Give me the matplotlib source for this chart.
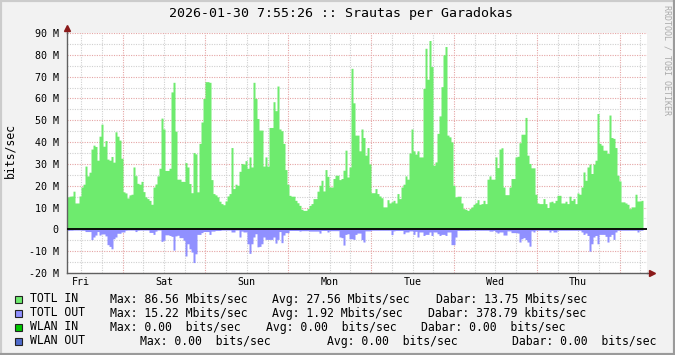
import numpy as np
import pandas as pd
import matplotlib
matplotlib.use('Agg')
import matplotlib.pyplot as plt
import matplotlib.dates as mdates
from matplotlib.patches import Rectangle
from matplotlib.lines import Line2D
from matplotlib.ticker import MultipleLocator, FuncFormatter

W, H = 675, 355
MONO = 'DejaVu Sans Mono'

# time window: one week ending at the title time, ~35 min per sample
end_time = pd.Timestamp('2026-01-30 07:55:26')
start_time = end_time - pd.Timedelta(days=7)
step = pd.Timedelta(days=7) / 290

# TOTL IN, Mbit/s
tot_in = [
    14.9, 15.2, 15.3, 17.5, 12.1, 12.1, 15.3, 19.4, 20.7, 29, 24.5, 26.2, 36.8, 38.6, 38, 31.7,
    42.7, 48.2, 38.1, 40.7, 32.2, 31.7, 33.4, 30.8, 44.7, 42.7, 40.9, 32.6, 17.2, 16.7, 14.4, 15.8,
    16.1, 28.6, 24.6, 21.1, 20.7, 22, 17.3, 14.9, 14.1, 13.3, 11.5, 19.4, 20.8, 24.5, 28, 51,
    # Sat
    46, 27, 27, 28, 63, 67.4, 45, 23, 23, 22, 22, 30.6, 28.6, 21, 16.8, 35.2,
    34.6, 17.2, 39.4, 49.2, 60, 67.7, 67.7, 67.4, 22.8, 16.4, 15.8, 14.9, 12.9, 11.8, 11.3, 13,
    15.3, 16.4, 37.5, 18.7, 20.7, 20.2, 26.6, 30.2, 29.9, 31.5, 28, 33.2, 28.6, 67.4, 60, 50.8,
    # Sun
    45.5, 45.5, 29, 33.2, 29, 46.7, 46.7, 58.5, 54.4, 65.7, 46, 45.2, 39.4, 27.4, 20.7, 15.6,
    15.2, 15.2, 13.3, 12.2, 11, 9.2, 8.7, 8.7, 9.5, 11, 11.8, 14.1, 14.1, 17.5, 20.2, 22.5,
    17.6, 27.4, 24.3, 19.4, 19.4, 23.3, 24.8, 24.8, 22.8, 23.3, 27.1, 36.3, 24, 28.6, 73.8, 58, 43.2,
    # Mon
    43.2, 36, 46, 42.1, 34, 37.5, 30, 16.8, 16.8, 18.7, 16.4, 15.3, 14.5, 10.3, 10.3, 13.6,
    12.1, 12.6, 13.3, 12.1, 16.4, 14.1, 19.4, 20.7, 24.5, 23, 35, 46, 36, 34.5, 36, 33.2,
    33.2, 64.6, 83, 68.8, 86.56, 74.6, 29.4, 30.9, 44, 52, 65.4, 80, 83.8, 43.2, 42.4, 40.1,
    # Tue
    20.2, 14.9, 15.2, 15.2, 12.1, 9.5, 9.2, 8.7, 9.5, 10.3, 11.5, 12.2, 13.6, 11.5, 11.8, 13.3,
    11.8, 23, 24.5, 23, 23, 33.2, 28.3, 36.8, 37.4, 19.4, 15.9, 15.9, 19.4, 23.3, 23.3, 33.2,
    33.5, 39.7, 43.6, 43.6, 51.3, 34, 30.2, 28.2, 28.2, 16.1, 12.1, 11.8, 11.8, 14.1, 11.8, 10, 12.6,
    # Wed / Thu
    12.9, 12.2, 13.3, 15.6, 15.6, 12.1, 12.1, 12.9, 11.8, 15.2, 13.3, 14.1, 11.8, 16.7, 16.1, 19.4,
    26.3, 22.5, 28.6, 29.9, 25.6, 29.9, 31.7, 53.1, 39.4, 38.6, 36.3, 36.3, 34.8, 52.4, 42.1, 41.7,
    37.5, 24.8, 22.2, 12.6, 12.6, 12.1, 11.5, 9.5, 10.3, 10.3, 16.1, 13, 13, 13.3,
]

# TOTL OUT, Mbit/s (drawn below zero)
tot_out = [
    0.5, 0.4, 0.4, 0.3, 0.3, 0.3, 0.3, 0.4, 0.4, 1.0, 1.0, 1.0, 4.7, 3.5, 2.6, 1.0,
    2.6, 2.1, 2.1, 3.0, 7.0, 7.8, 8.9, 4.3, 3.5, 1.8, 1.8, 1.2, 1.2, 0.4, 0.3, 0.3,
    0.3, 0.3, 1.0, 0.4, 0.3, 0.3, 0.3, 0.3, 0.3, 1.4, 1.4, 2.3, 0.8, 0.3, 0.3, 5.5,
    5, 2.5, 2.5, 2.8, 3.2, 9.5, 3, 2.7, 3.8, 3.8, 5, 12.2, 6.6, 8.9, 10.4, 15.22,
    11.2, 2.3, 2.3, 1.5, 1.0, 1.0, 1.0, 2.3, 0.8, 0.8, 0.5, 0.5, 0.5, 0.3, 0.3, 0.3,
    0.3, 0.3, 1.2, 1.2, 0.3, 0.3, 3.5, 0.8, 1.2, 1.2, 6.6, 11, 6.6, 3.5, 2, 8,
    7.8, 6.6, 3.5, 4.6, 4.6, 4.6, 4.6, 3.5, 6.3, 4.6, 1, 6.1, 2.6, 1.5, 1.5, 0.5,
    0.5, 0.5, 0.5, 0.5, 0.8, 0.6, 0.6, 0.6, 0.6, 0.8, 0.8, 0.8, 0.8, 0.8, 1.7, 0.5,
    0.5, 0.5, 1.2, 0.6, 0.6, 0.6, 0.6, 0.6, 3.5, 3.8, 7.2, 2.3, 2, 4.3, 4.3, 4.6, 2.3,
    1.7, 1.7, 4.7, 5.8, 0.7, 0.7, 0.7, 0.4, 0.4, 0.4, 0.4, 0.4, 0.4, 0.4, 0.4, 0.4,
    0.4, 2.4, 0.7, 0.5, 0.5, 0.5, 0.5, 2, 1.2, 1.2, 0.7, 0.7, 2.3, 0.9, 3.5, 1.2,
    1.2, 2.8, 2.3, 2.3, 1.2, 2.8, 1.2, 1.2, 2, 2.8, 2.3, 2.3, 2.8, 1.2, 1.2, 7,
    7, 3.5, 0.5, 0.5, 0.5, 0.5, 0.5, 0.5, 0.4, 0.4, 0.4, 0.4, 0.4, 0.4, 0.4, 0.4,
    0.4, 0.4, 0.8, 0.8, 0.5, 1.2, 1.7, 1.2, 1.2, 2.6, 2.6, 0.7, 0.7, 1.5, 1.5, 1.5,
    1.7, 5.8, 4.3, 3.8, 4.7, 5.8, 7.7, 0.7, 1.2, 0.4, 0.4, 0.4, 0.4, 0.4, 0.4, 0.4, 1.2,
    0.5, 1.2, 1.2, 0.4, 0.4, 0.4, 0.4, 0.4, 0.4, 0.4, 0.4, 0.4, 0.4, 0.4, 0.4, 1.2,
    2.3, 1.7, 2.8, 10, 6.6, 3.5, 2.8, 6.6, 2.3, 2.3, 2.3, 3.2, 5.8, 3.2, 2.3, 4.6,
    1.2, 0.4, 0.4, 0.4, 0.4, 0.4, 0.4, 0.4, 0.4, 0.4, 0.4, 1.2, 0.4, 0.4,
]

legend_names = ['TOTL IN', 'TOTL OUT', 'WLAN IN', 'WLAN OUT']
legend_colors = ['#6EEB6E', '#9090FF', '#00C800', '#4F6BCB']
legend_max = ['Max: 86.56 Mbits/sec', 'Max: 15.22 Mbits/sec', 'Max: 0.00  bits/sec', 'Max: 0.00  bits/sec']
legend_avg = ['Avg: 27.56 Mbits/sec', 'Avg: 1.92 Mbits/sec', 'Avg: 0.00  bits/sec', 'Avg: 0.00  bits/sec']
legend_cur = ['Dabar: 13.75 Mbits/sec', 'Dabar: 378.79 kbits/sec', 'Dabar: 0.00  bits/sec',
              'Dabar: 0.00  bits/sec']

times = pd.date_range(start=start_time, periods=len(tot_in) + 1, freq=step)
in_vals = np.append(tot_in, tot_in[-1])
out_vals = -np.append(tot_out, tot_out[-1])

fig = plt.figure(figsize=(W / 100, H / 100), dpi=100, facecolor='#F2F2F2')
ax = fig.add_axes([67 / W, 82 / H, 580 / W, 240 / H])
ax.set_facecolor('white')

ax.fill_between(times, 0, in_vals, step='post', color=legend_colors[0], lw=0, zorder=2)
ax.fill_between(times, 0, out_vals, step='post', color=legend_colors[1], lw=0, zorder=2)
ax.axhline(0, color='black', lw=1.3, zorder=3)

ax.set_xlim(start_time, end_time)
ax.set_ylim(-20, 90)

# grid: grey dotted minor, red dotted major
dots = (0, (1, 1.2))
ax.yaxis.set_major_locator(MultipleLocator(10))
ax.yaxis.set_minor_locator(MultipleLocator(5))
ax.grid(which='minor', axis='y', color='#D0D0D0', ls=dots, lw=0.8)
ax.grid(which='major', axis='y', color='#E5A5A5', ls=dots, lw=0.8)
for t in pd.date_range(start_time.ceil('6h'), end_time, freq='6h'):
    c = '#E5A5A5' if t.hour == 0 else '#D0D0D0'
    ax.axvline(t, color=c, ls=dots, lw=0.8, zorder=0.5)
ax.set_axisbelow(True)

ax.xaxis.set_major_locator(mdates.HourLocator(byhour=12))
ax.xaxis.set_major_formatter(mdates.DateFormatter('%a'))
ax.yaxis.set_major_formatter(FuncFormatter(lambda v, p: '0' if v == 0 else f'{int(v)} M'))
ax.tick_params(axis='both', which='both', length=0, labelsize=7.2, colors='black')
ax.tick_params(axis='y', pad=6)
ax.tick_params(axis='x', pad=3)
for lab in ax.get_xticklabels() + ax.get_yticklabels():
    lab.set_family(MONO)

for s in ['top', 'right']:
    ax.spines[s].set_visible(False)
for s in ['left', 'bottom']:
    ax.spines[s].set_color('#606060')
    ax.spines[s].set_linewidth(1)

# axis arrows
ax.add_line(Line2D([0, 0], [1, 1.02], transform=ax.transAxes, color='#606060', lw=1, clip_on=False))
ax.add_line(Line2D([1, 1.006], [0, 0], transform=ax.transAxes, color='#606060', lw=1, clip_on=False))
ax.plot([0], [1.022], marker='^', ms=4, color='#8B1A1A', transform=ax.transAxes, clip_on=False)
ax.plot([1.008], [0], marker='>', ms=4, color='#8B1A1A', transform=ax.transAxes, clip_on=False)

# title, unit and watermark
fig.text(341 / W, 1 - 14 / H, '2026-01-30 7:55:26 :: Srautas per Garadokas', ha='center', va='center',
         family=MONO, fontsize=9.5, color='black')
fig.text(10 / W, 1 - 150 / H, 'bits/sec', rotation=90, ha='center', va='center', family=MONO,
         fontsize=8.3, color='black')
fig.text(667 / W, 1 - 60 / H, 'RRDTOOL / TOBI OETIKER', rotation=270, ha='center', va='center',
         family=MONO, fontsize=6, color='#AAAAAA')

# legend rows
row_y = [299, 313, 327, 341]
max_x = [110, 110, 110, 140]
avg_x = [272.5, 272.5, 265.5, 327]
cur_x = [435.5, 428.5, 421, 512]
for i in range(4):
    y = 1 - row_y[i] / H
    fig.add_artist(Rectangle((15 / W, 1 - (row_y[i] + 3.5) / H), 7 / W, 7 / H, transform=fig.transFigure,
                             facecolor=legend_colors[i], edgecolor='#222222', lw=0.8))
    fig.text(30 / W, y, legend_names[i], va='center', family=MONO, fontsize=8.3)
    fig.text(max_x[i] / W, y, legend_max[i], va='center', family=MONO, fontsize=8.3)
    fig.text(avg_x[i] / W, y, legend_avg[i], va='center', family=MONO, fontsize=8.3)
    fig.text(cur_x[i] / W, y, legend_cur[i], va='center', family=MONO, fontsize=8.3)

# canvas frame
fig.add_artist(Line2D([0, 1], [1, 1], transform=fig.transFigure, color='#CCCCCC', lw=3))
fig.add_artist(Line2D([0, 0], [0, 1], transform=fig.transFigure, color='#CCCCCC', lw=3))
fig.add_artist(Line2D([0, 1], [0, 0], transform=fig.transFigure, color='#9A9A9A', lw=3))
fig.add_artist(Line2D([1, 1], [0, 1], transform=fig.transFigure, color='#9A9A9A', lw=3))

fig.savefig('out.png', dpi=100, facecolor=fig.get_facecolor())
